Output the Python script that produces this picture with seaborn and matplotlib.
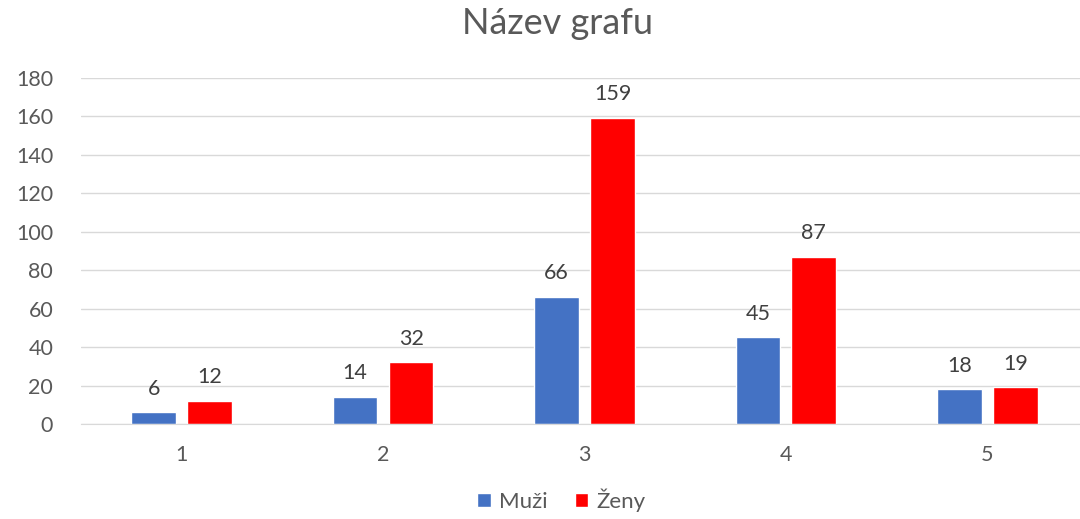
import pandas as pd
import matplotlib
matplotlib.use("Agg")
import matplotlib.pyplot as plt
import seaborn as sns

kategorie = ["1", "2", "3", "4", "5"]
muzi = [6, 14, 66, 45, 18]
zeny = [12, 32, 159, 87, 19]
serie = ["Muži", "Ženy"]
barvy = {"Muži": "#4472C4", "Ženy": "#FF0000"}

df = pd.DataFrame({
    "kategorie": kategorie * 2,
    "hodnota": muzi + zeny,
    "serie": [serie[0]] * len(kategorie) + [serie[1]] * len(kategorie),
})

sns.set_style("white")
plt.rcParams["font.family"] = ["Lato", "DejaVu Sans"]

fig = plt.figure(figsize=(10.8, 5.19), dpi=100)
# plocha grafu presahuje pravy okraj jako v originale
ax = fig.add_axes([0.075, 0.183, 0.9324, 0.667])

sns.barplot(data=df, x="kategorie", y="hodnota", hue="serie", order=kategorie,
            hue_order=serie, palette=barvy, width=0.556, gap=0.2, saturation=1,
            ax=ax, legend=True)

for cont in ax.containers:
    ax.bar_label(cont, padding=10, fontsize=15.5, color="#404040")

ax.set_ylim(0, 180)
ax.set_yticks(range(0, 181, 20))
ax.set_xlim(-0.5, 4.5)
ax.yaxis.grid(True, color="#D9D9D9", linewidth=1)
ax.set_axisbelow(True)
for s in ["top", "right", "left"]:
    ax.spines[s].set_visible(False)
ax.spines["bottom"].set_color("#D9D9D9")
ax.tick_params(axis="both", length=0, labelsize=15.5, colors="#595959")
ax.tick_params(axis="y", pad=20)
ax.tick_params(axis="x", pad=15)
ax.set_xlabel("")
ax.set_ylabel("")

fig.text(0.516, 0.955, "Název grafu", fontsize=26, color="#595959",
         ha="center", va="center")

ax.get_legend().remove()
handles, labels = ax.get_legend_handles_labels()
fig.legend(handles[:2], labels[:2], loc="lower center", ncol=2, frameon=False,
           fontsize=16, labelcolor="#595959", handlelength=0.6, handleheight=0.6,
           handletextpad=0.4, columnspacing=1.2, bbox_to_anchor=(0.52, -0.025))

fig.savefig("out.png", dpi=100)
